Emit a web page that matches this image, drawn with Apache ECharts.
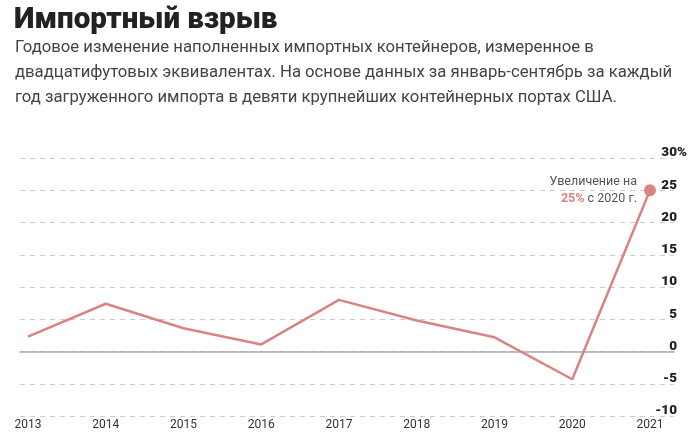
<!DOCTYPE html>
<html><head><meta charset="utf-8">
<script src="https://cdn.jsdelivr.net/npm/echarts@6/dist/echarts.min.js"></script>
<style>html,body{margin:0;padding:0;background:#fff}#c{width:690px;height:435px}</style>
</head><body><div id="c"></div>
<script>
const title = 'Импортный взрыв';
const subtitle = 'Годовое изменение наполненных импортных контейнеров, измеренное в\nдвадцатифутовых эквивалентах. На основе данных за январь-сентябрь за каждый\nгод загруженного импорта в девяти крупнейших контейнерных портах США.';
const years = ['2013','2014','2015','2016','2017','2018','2019','2020','2021'];
const change = [2.3, 7.4, 3.6, 1.1, 8.0, 4.8, 2.2, -4.3, 25];
const yMin = -10, yMax = 30, yStep = 5;
const noteLine1 = 'Увеличение на';
const noteValue = '25%';
const noteLine2 = ' с 2020 г.';

const chart = echarts.init(document.getElementById('c'));
const last = years.length - 1;
const gridTop = 158, gridBottom = 19;
chart.setOption({
  animation: false,
  title: [{
    text: title, left: 9, top: 1,
    textStyle: {fontFamily: 'Roboto', fontWeight: 900, fontSize: 29.5, color: '#222'}
  }, {
    text: subtitle, left: 10, top: 30,
    textStyle: {fontFamily: 'Roboto', fontWeight: 400, fontSize: 16.7, color: '#444', lineHeight: 25}
  }],
  grid: [
    {left: 28, right: 40, top: gridTop, bottom: gridBottom},
    {left: 20, right: 15, top: gridTop, bottom: gridBottom}
  ],
  xAxis: [{
    type: 'category', data: years, boundaryGap: false, gridIndex: 0,
    axisLine: {show: false}, axisTick: {show: false},
    axisLabel: {fontFamily: 'Roboto', fontSize: 12, color: '#333', margin: 3, verticalAlign: 'top'}
  }, {
    type: 'value', gridIndex: 1, min: 0, max: 1,
    axisLine: {show: true, onZero: true, lineStyle: {color: '#aaa', width: 1.5}},
    axisTick: {show: false}, axisLabel: {show: false}, splitLine: {show: false}
  }],
  yAxis: [{
    type: 'value', gridIndex: 0, min: yMin, max: yMax, interval: yStep, show: false
  }, {
    type: 'value', gridIndex: 1, position: 'right', min: yMin, max: yMax, interval: yStep,
    axisLine: {show: false}, axisTick: {show: false},
    splitLine: {lineStyle: {color: '#ccc', type: [5, 5], width: 1}},
    axisLabel: {
      margin: 13, align: 'right', verticalAlign: 'bottom', padding: [0, 0, -2, 0],
      formatter: v => v === yMax ? v + '{p|%}' : v + '{h|%}',
      fontFamily: 'Roboto', fontWeight: 900, fontSize: 13.5, color: '#222', lineHeight: 14,
      rich: {p: {fontFamily: 'Roboto', fontWeight: 900, fontSize: 13.5, color: '#222', lineHeight: 14},
             h: {fontFamily: 'Roboto', fontWeight: 900, fontSize: 13.5, color: 'rgba(0,0,0,0)', lineHeight: 14}}
    }
  }],
  series: [{
    type: 'line', xAxisIndex: 0, yAxisIndex: 0,
    data: change.map((v, i) => i === last ? {
      value: v, symbol: 'circle', symbolSize: 12,
      label: {show: true, position: 'left', distance: 7, align: 'right',
        formatter: noteLine1 + '\n{b|' + noteValue + '}' + noteLine2,
        fontFamily: 'Roboto', fontSize: 12.5, color: '#555', lineHeight: 17,
        rich: {b: {fontFamily: 'Roboto', fontWeight: 'bold', fontSize: 12.5, color: '#d98482'}}}
    } : v),
    showSymbol: true, symbol: 'none',
    lineStyle: {color: '#d98482', width: 2.5},
    itemStyle: {color: '#d98482'},
    z: 5
  }]
});
</script></body></html>
